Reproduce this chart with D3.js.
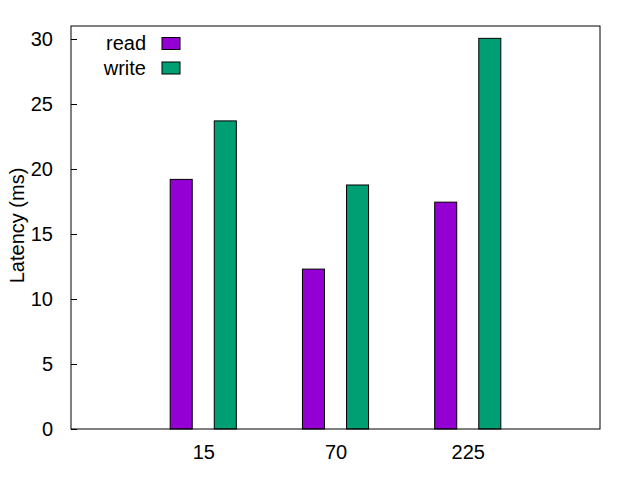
<!DOCTYPE html>
<html>
<head>
<meta charset="utf-8">
<script src="https://cdn.jsdelivr.net/npm/d3@7"></script>
<style>
body{margin:0;background:#fff;}
text{font-family:"Liberation Sans",Arial,sans-serif;font-size:20px;fill:#000;}
</style>
</head>
<body>
<svg id="chart" width="640" height="480"></svg>
<script>
const categories = ["15", "70", "225"];
const seriesNames = ["read", "write"];
const readValues = [19.2, 12.3, 17.45];
const writeValues = [23.7, 18.77, 30.05];
const yTicks = [0, 5, 10, 15, 20, 25, 30];
const colors = ["#9400d3", "#009e73"];

const svg = d3.select("#chart");
const L = 71, R = 600, T = 26, B = 429;
const FONT = "20px";

const x = d3.scaleLinear().domain([-1, categories.length]).range([L, R]);
const y = d3.scaleLinear().domain([0, 31]).range([B, T]);
const unit = x(1) - x(0);
const barW = unit / 6;
const offsets = [-unit / 6, unit / 6];

const series = [readValues, writeValues];

// bars
series.forEach((vals, si) => {
  svg.append("g").selectAll("rect").data(vals).join("rect")
    .attr("x", (d, i) => x(i) + offsets[si] - barW / 2)
    .attr("y", d => y(d))
    .attr("width", barW)
    .attr("height", d => y(0) - y(d))
    .attr("fill", colors[si])
    .attr("stroke", "#000")
    .attr("stroke-width", 1);
});

// frame
svg.append("rect").attr("x", L).attr("y", T).attr("width", R - L).attr("height", B - T)
  .attr("fill", "none").attr("stroke", "#000").attr("stroke-width", 1);

// y axis
const yAxis = d3.axisLeft(y).tickValues(yTicks).tickSize(-6).tickPadding(18);
const gy = svg.append("g").attr("transform", `translate(${L},0)`).call(yAxis);
gy.select(".domain").remove();
gy.selectAll("line").attr("stroke", "#000");
gy.selectAll("text").style("font-size", FONT).attr("font-family", "Liberation Sans, Arial, sans-serif").attr("fill", "#000").attr("dy", "0.34em");

// x axis labels
const xAxis = d3.axisBottom(x).tickValues(d3.range(categories.length)).tickFormat(i => categories[i]).tickSize(0).tickPadding(16);
const gx = svg.append("g").attr("transform", `translate(0,${B})`).call(xAxis);
gx.select(".domain").remove();
gx.selectAll("text").style("font-size", FONT).attr("font-family", "Liberation Sans, Arial, sans-serif").attr("fill", "#000");

// y label
svg.append("text").attr("transform", `translate(24,${(T + B) / 2 - 2}) rotate(-90)`)
  .attr("text-anchor", "middle").text("Latency (ms)");

// legend
seriesNames.forEach((name, i) => {
  const cy = 43.5 + i * 24.5;
  svg.append("text").attr("x", 146).attr("y", cy).attr("dy", "0.34em")
    .attr("text-anchor", "end").text(name);
  svg.append("rect").attr("x", 162).attr("y", cy - 6).attr("width", 18).attr("height", 12)
    .attr("fill", colors[i]).attr("stroke", "#000").attr("stroke-width", 1);
});
</script>
</body>
</html>
